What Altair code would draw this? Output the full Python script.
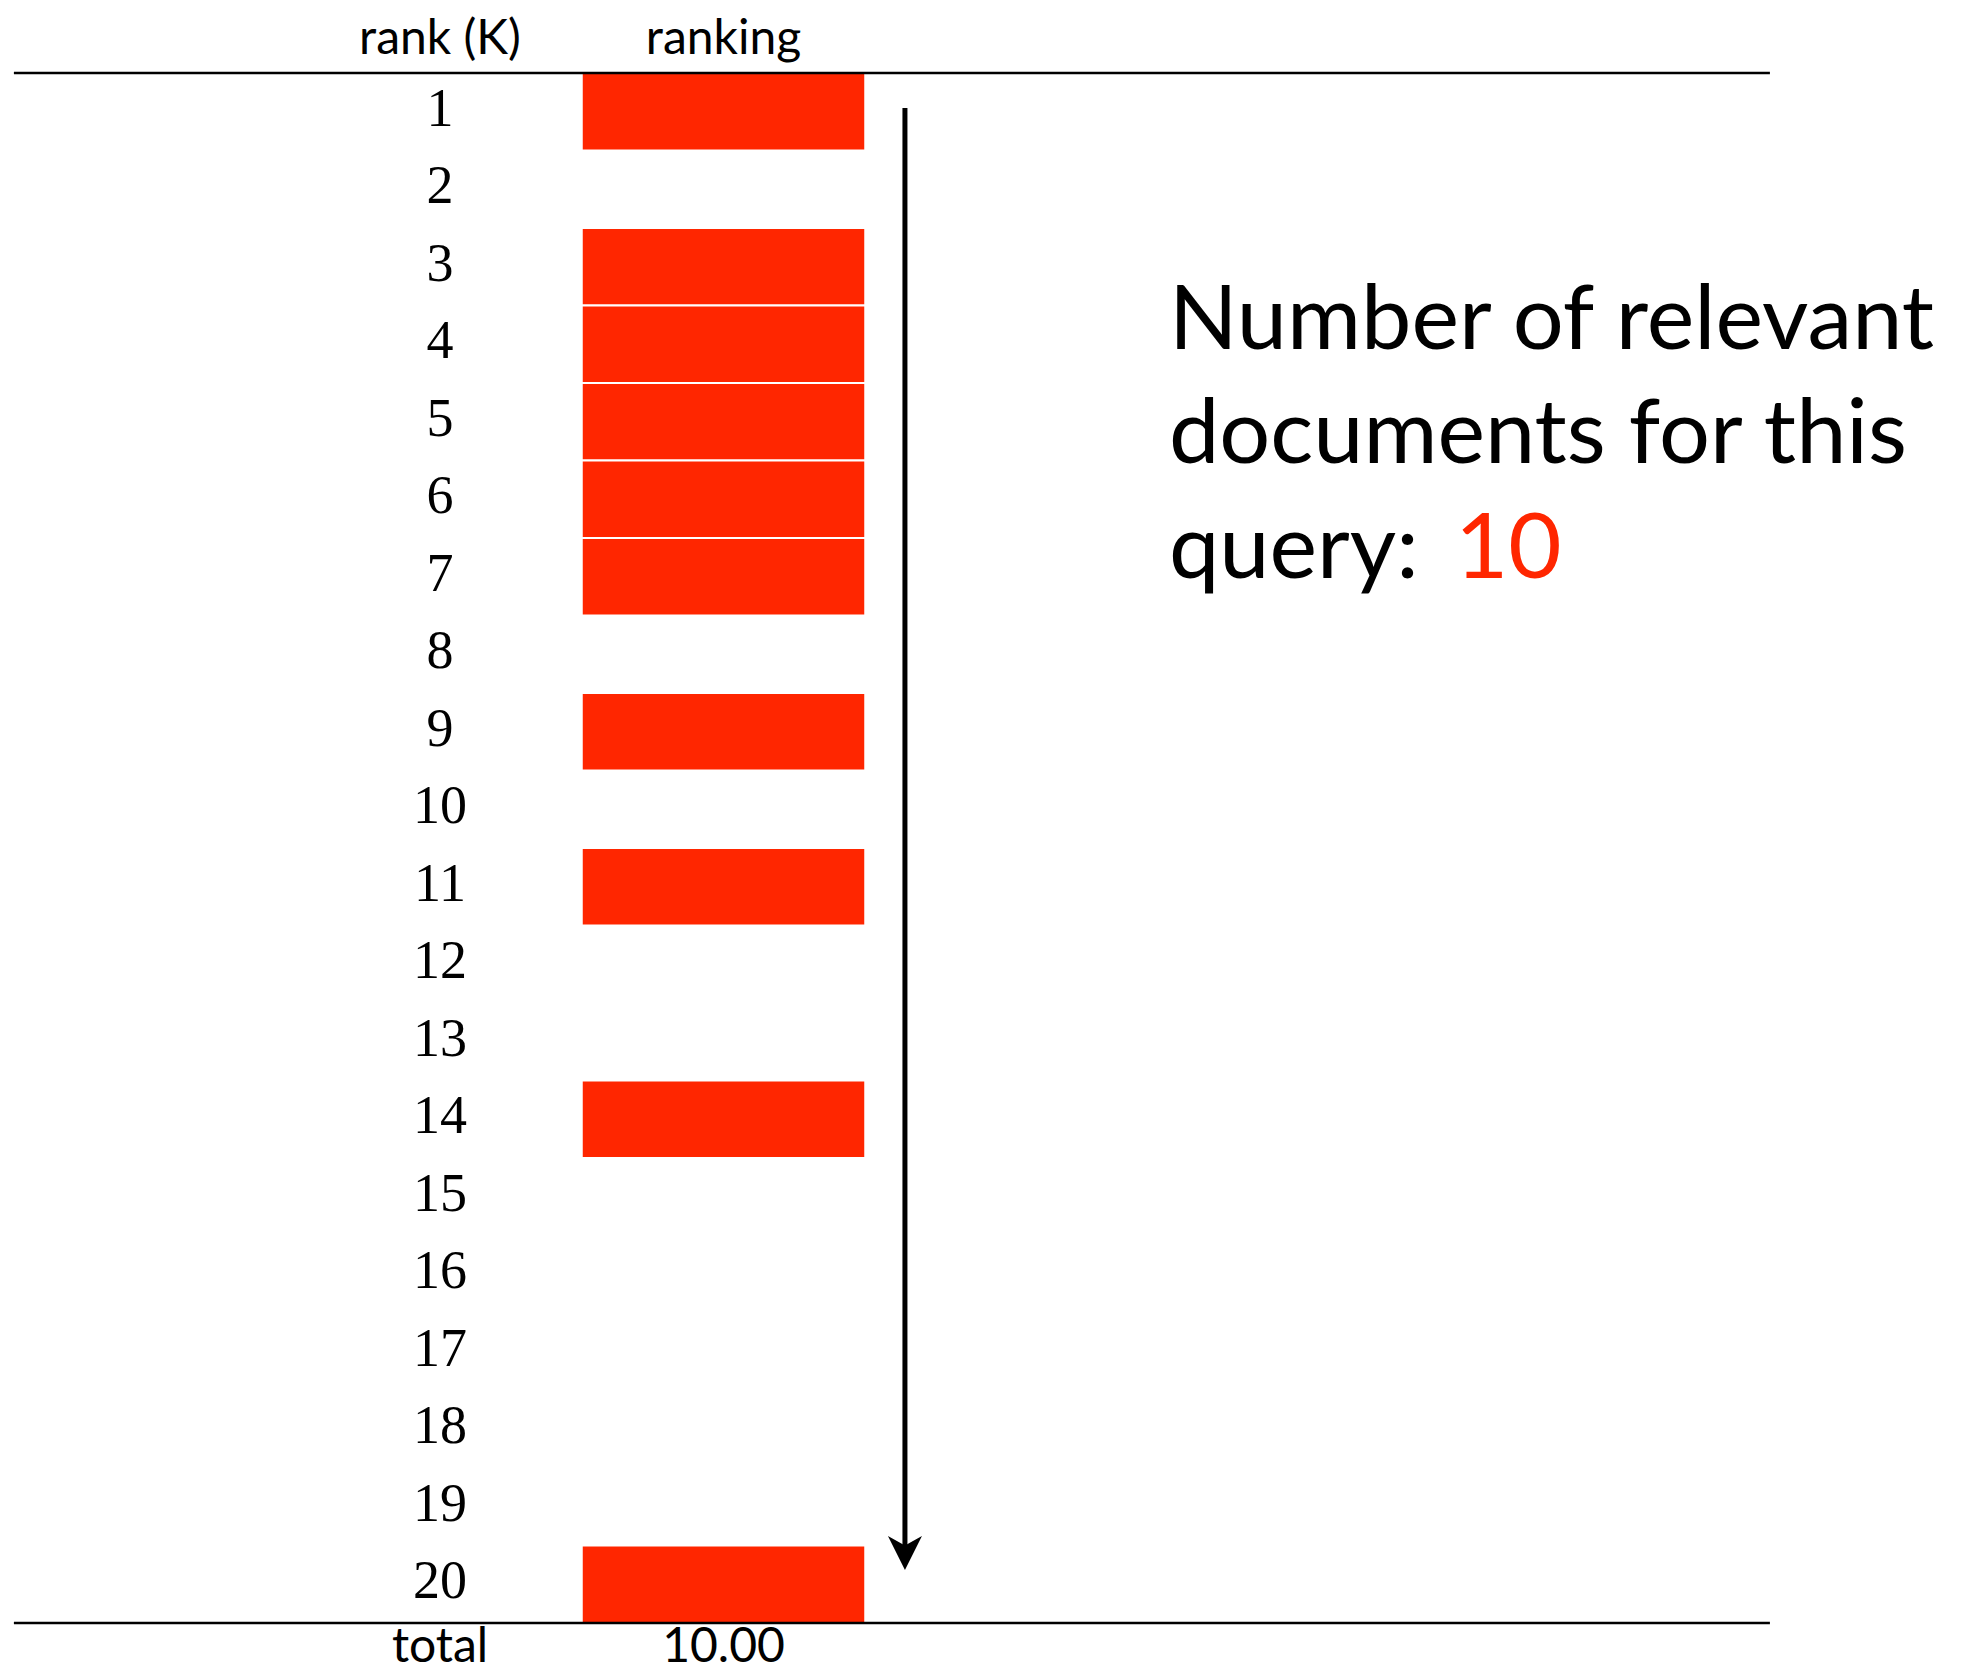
import altair as alt
import pandas as pd

# ---- data -------------------------------------------------------------
ranks = list(range(1, 21))
relevant = [1, 0, 1, 1, 1, 1, 1, 0, 1, 0, 1, 0, 0, 1, 0, 0, 0, 0, 0, 1]
headers = ["rank (K)", "ranking"]
totals = ["total", "10.00"]
annotation_lines = ["Number of relevant", "documents for this", "query:"]
relevant_count = "10"

RED = "#ff2600"
W, H = 1955, 1664

# column units (0 = rank column, 1 = ranking column); row units (0 = top rule, 20 = bottom rule)
x_scale = alt.Scale(domain=[-1.5238, 5.3721], nice=False, zero=False)
y_scale = alt.Scale(domain=[-0.8387, 20.632], nice=False, zero=False, reverse=True)


def X(f):
    return alt.X(f, type="quantitative", scale=x_scale, axis=None)


def Y(f):
    return alt.Y(f, type="quantitative", scale=y_scale, axis=None)


rows = pd.DataFrame({"rank": ranks, "rel": relevant})
rows["label"] = rows["rank"].astype(str)
rows["yc"] = rows["rank"] - 0.5
rows["y0"] = rows["rank"] - 1
rows["y1"] = rows["rank"]
rows["col"] = 0
bars_df = rows[rows["rel"] == 1].assign(x0=0.5, x1=1.5)

rules_df = pd.DataFrame({"x": [-1.503, -1.503], "x2": [4.691, 4.691], "y": [0, 20]})
head_df = pd.DataFrame({"text": headers, "x": [0, 1], "y": [-0.245, -0.245]})
tot_df = pd.DataFrame({"text": totals, "x": [0, 1], "y": [20.5, 20.5]})
ann_df = pd.DataFrame({"text": annotation_lines, "x": [2.571] * 3, "y": [3.56, 5.03, 6.52]})
cnt_df = pd.DataFrame({"text": [relevant_count], "x": [3.58], "y": [6.52]})
shaft_df = pd.DataFrame({"x": [1.64], "y": [0.452], "y2": [19.03]})
head_pt_df = pd.DataFrame({"x": [1.64], "y": [19.097]})

rules = alt.Chart(rules_df).mark_rule(color="black", strokeWidth=2.5).encode(
    x=X("x"), x2="x2", y=Y("y")
)

bars = alt.Chart(bars_df).mark_rect(color=RED, stroke="white", strokeWidth=2).encode(
    x=X("x0"), x2="x1", y=Y("y0"), y2="y1"
)

rank_labels = alt.Chart(rows).mark_text(
    font="Liberation Serif", fontSize=54, baseline="alphabetic", dy=14, align="center", color="black"
).encode(x=X("col"), y=Y("yc"), text="label:N")

head_text = alt.Chart(head_df).mark_text(
    font="Lato", fontSize=48, baseline="alphabetic", align="center", color="black"
).encode(x=X("x"), y=Y("y"), text="text:N")

tot_text = alt.Chart(tot_df).mark_text(
    font="Lato", fontSize=48, baseline="alphabetic", align="center", color="black"
).encode(x=X("x"), y=Y("y"), text="text:N")

shaft = alt.Chart(shaft_df).mark_rule(color="black", strokeWidth=5).encode(
    x=X("x"), y=Y("y"), y2="y2"
)

arrow_head = alt.Chart(head_pt_df).mark_point(
    shape="M0,1 L1,-1 L0,-0.45 L-1,-1 Z", filled=True, color="black", size=1156, opacity=1
).encode(x=X("x"), y=Y("y"))

ann_text = alt.Chart(ann_df).mark_text(
    font="Lato", fontSize=90, baseline="alphabetic", align="left", color="black"
).encode(x=X("x"), y=Y("y"), text="text:N")

cnt_text = alt.Chart(cnt_df).mark_text(
    font="Lato", fontSize=92, baseline="alphabetic", align="left", color=RED
).encode(x=X("x"), y=Y("y"), text="text:N")

chart = alt.layer(
    bars, rules, rank_labels, head_text, tot_text, shaft, arrow_head, ann_text, cnt_text
).properties(
    width=W, height=H, padding=0, autosize=alt.AutoSizeParams(type="none")
).configure_view(stroke=None)

chart.save("out.html", embed_options={"renderer": "svg", "actions": False})
